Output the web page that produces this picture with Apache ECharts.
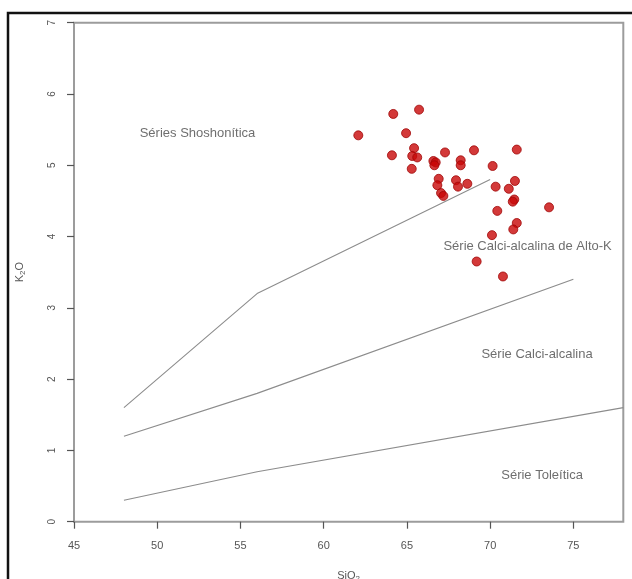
<!DOCTYPE html>
<html>
<head>
<meta charset="utf-8">
<script src="https://cdn.jsdelivr.net/npm/echarts@6/dist/echarts.min.js"></script>
<style>
  html, body { margin: 0; padding: 0; background: #ffffff; }
  #chart { width: 632px; height: 579px; }
</style>
</head>
<body>
<div id="chart"></div>
<script>
// SiO2 (wt%) of each sample
const sio2 = [62.08, 64.18, 65.73, 64.95, 64.10, 65.43, 65.32, 65.62, 65.29,
  66.59, 66.73, 66.65, 67.29, 68.23, 68.23, 69.03, 71.60, 70.15, 66.91, 66.83,
  67.95, 68.07, 68.63, 67.05, 67.19, 70.33, 71.49, 71.12, 71.45, 71.36, 70.43,
  73.54, 71.60, 71.39, 70.11, 69.19, 70.77];
// K2O (wt%) of each sample
const k2o = [5.42, 5.72, 5.78, 5.45, 5.14, 5.24, 5.13, 5.11, 4.95,
  5.06, 5.04, 5.00, 5.18, 5.07, 5.00, 5.21, 5.22, 4.99, 4.81, 4.72,
  4.79, 4.70, 4.74, 4.61, 4.57, 4.70, 4.78, 4.67, 4.52, 4.49, 4.36,
  4.41, 4.19, 4.10, 4.02, 3.65, 3.44];

// Field boundaries (SiO2, K2O vertices)
const shoshoniteBoundary = [[48, 1.6], [56, 3.2], [70, 4.8]];
const highKBoundary = [[48, 1.2], [56, 1.8], [75, 3.4]];
const tholeiiteBoundary = [[48, 0.3], [56, 0.7], [78, 1.6]];

// Field names and their anchor points
const fieldNames = ['Séries Shoshonítica', 'Série Calci-alcalina de Alto-K', 'Série Calci-alcalina', 'Série Toleítica'];
const fieldX = [52.42, 72.25, 72.82, 73.12];
const fieldY = [5.45, 3.86, 2.35, 0.655];

// Axis ticks
const xTicks = [45, 50, 55, 60, 65, 70, 75];
const yTicks = [0, 1, 2, 3, 4, 5, 6, 7];

const font = '"Liberation Sans", Arial, Helvetica, sans-serif';
const chart = echarts.init(document.getElementById('chart'), null, { renderer: 'canvas' });

const boundaryStyle = { color: '#8c8c8c', width: 1.1 };
const boundarySeries = [shoshoniteBoundary, highKBoundary, tholeiiteBoundary].map(pts => ({
  type: 'line',
  data: pts,
  symbol: 'none',
  silent: true,
  lineStyle: boundaryStyle,
  z: 2
}));

chart.setOption({
  backgroundColor: '#ffffff',
  animation: false,
  graphic: [{
    type: 'rect',
    shape: { x: 8, y: 13, width: 700, height: 700 },
    style: { fill: 'none', stroke: '#111111', lineWidth: 2.5 },
    silent: true,
    z: 100
  }],
  grid: {
    left: 74, top: 22.7, right: 8.7, bottom: 57.3,
    outerBoundsMode: 'none',
    show: true, borderColor: '#9c9c9c', borderWidth: 2, backgroundColor: 'transparent'
  },
  xAxis: {
    type: 'value', min: 45, max: 78, interval: 5,
    name: '{a|SiO}{b|2}', nameLocation: 'middle', nameGap: 47,
    nameMoveOverlap: false,
    nameTextStyle: {
      rich: {
        a: { fontFamily: font, fontSize: 11, color: '#555555' },
        b: { fontFamily: font, fontSize: 8, color: '#555555', padding: [6, 0, 0, 0] }
      }
    },
    axisLine: { show: false },
    axisTick: { show: true, length: 7, inside: false, customValues: xTicks, lineStyle: { color: '#555555', width: 1.2 } },
    axisLabel: { customValues: xTicks, margin: 19, fontFamily: font, fontSize: 11, color: '#555555' },
    splitLine: { show: false }
  },
  yAxis: {
    type: 'value', min: 0, max: 7, interval: 1,
    name: '{a|K}{b|2}{a|O}', nameLocation: 'middle', nameGap: 47, nameRotate: 90,
    nameMoveOverlap: false,
    nameTextStyle: {
      rich: {
        a: { fontFamily: font, fontSize: 11, color: '#555555' },
        b: { fontFamily: font, fontSize: 8, color: '#555555', padding: [6, 0, 0, 0] }
      }
    },
    axisLine: { show: false },
    axisTick: { show: true, length: 7, inside: false, customValues: yTicks, lineStyle: { color: '#555555', width: 1.2 } },
    axisLabel: { customValues: yTicks, rotate: 90, margin: 17, fontFamily: font, fontSize: 10, color: '#555555' },
    splitLine: { show: false }
  },
  series: [
    ...boundarySeries,
    {
      type: 'scatter',
      data: fieldNames.map((n, i) => ({ name: n, value: [fieldX[i], fieldY[i]] })),
      symbolSize: 0,
      silent: true,
      label: {
        show: true, position: 'inside', formatter: '{b}',
        fontFamily: font, fontSize: 13, color: '#4a4a4a'
      },
      z: 3
    },
    {
      type: 'scatter',
      data: sio2.map((x, i) => [x, k2o[i]]),
      symbol: 'circle',
      symbolSize: 9,
      itemStyle: { color: '#c80808', borderColor: '#a00606', borderWidth: 1 },
      z: 5
    }
  ]
});
</script>
</body>
</html>
